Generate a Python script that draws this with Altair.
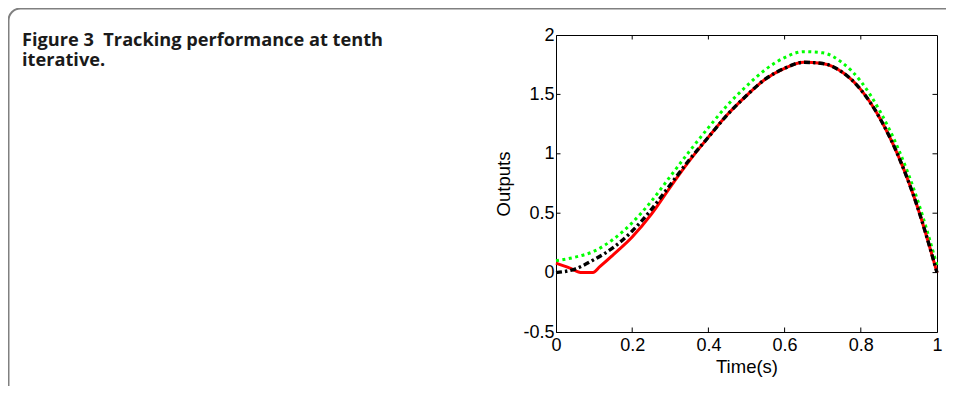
import altair as alt
import pandas as pd

# ---- data ----
caption_lines = ["Figure 3\u00a0\u00a0Tracking performance at tenth", "iterative."]

t_ref = [0, 0.05, 0.1, 0.15, 0.2, 0.25, 0.3, 0.35, 0.4, 0.45, 0.5,
         0.55, 0.6, 0.65, 0.7, 0.75, 0.8, 0.85, 0.9, 0.95, 1.0]
desired = [0, 0.03, 0.11, 0.21, 0.35, 0.53, 0.74, 0.95, 1.14, 1.33, 1.49,
           1.63, 1.72, 1.77, 1.76, 1.69, 1.54, 1.30, 0.97, 0.54, 0.0]
green = [0.10, 0.13, 0.18, 0.28, 0.42, 0.60, 0.81, 1.02, 1.22, 1.41, 1.57,
         1.71, 1.81, 1.86, 1.85, 1.77, 1.61, 1.36, 1.03, 0.60, 0.06]
t_red = [0, 0.035, 0.068, 0.097, 0.115, 0.15, 0.2, 0.25, 0.3, 0.35, 0.4, 0.45, 0.5,
         0.55, 0.6, 0.65, 0.7, 0.75, 0.8, 0.85, 0.9, 0.95, 1.0]
red = [0.08, 0.04, 0.0, 0.0, 0.05, 0.15, 0.30, 0.49, 0.72, 0.94, 1.14, 1.33, 1.49,
       1.63, 1.72, 1.77, 1.76, 1.69, 1.54, 1.30, 0.97, 0.54, 0.0]

x_ticks = [0, 0.2, 0.4, 0.6, 0.8, 1.0]
y_ticks = [-0.5, 0, 0.5, 1, 1.5, 2]
x_inner_ticks = [0.2, 0.4, 0.6, 0.8]
y_inner_ticks = [0, 0.5, 1, 1.5]

W, H = 381, 297
FONT = "Liberation Sans"

xs = alt.Scale(domain=[0, 1], nice=False, zero=False)
ys = alt.Scale(domain=[-0.5, 2], nice=False, zero=False)

x_axis = alt.Axis(values=x_ticks, labelExpr="format(datum.value, '~g')", ticks=False,
                  grid=False, labelFlush=False, labelOverlap=False, labelPadding=4,
                  titlePadding=3)
y_axis = alt.Axis(values=y_ticks,
                  labelExpr="datum.value < 0 ? '-' + format(-datum.value, '~g') : format(datum.value, '~g')",
                  ticks=False, grid=False, labelOverlap=False, labelPadding=2, titlePadding=9)

def X(field, **kw):
    return alt.X(field, type="quantitative", scale=xs, title="Time(s)", **kw)

def Y(field, **kw):
    return alt.Y(field, type="quantitative", scale=ys, title="Outputs", **kw)

df_g = pd.DataFrame({"t": t_ref, "v": green})
df_r = pd.DataFrame({"t": t_red, "v": red})
df_b = pd.DataFrame({"t": t_ref, "v": desired})

frame = alt.Chart(pd.DataFrame({"a": [0]})).mark_rect(
    fill="white", fillOpacity=0, stroke="#808080", strokeWidth=2, cornerRadius=12
).encode(x=alt.value(-547.5), x2=alt.value(1200), y=alt.value(-26.5), y2=alt.value(1200))

cap1 = alt.Chart(pd.DataFrame({"c": [caption_lines[0]]})).mark_text(
    font="Open Sans", fontWeight="bold", fontSize=18.2, align="left", baseline="alphabetic",
    color="#1a1a1a"
).encode(text="c:N", x=alt.value(-534), y=alt.value(10.5))
cap2 = alt.Chart(pd.DataFrame({"c": [caption_lines[1]]})).mark_text(
    font="Open Sans", fontWeight="bold", fontSize=18.2, align="left", baseline="alphabetic",
    color="#1a1a1a"
).encode(text="c:N", x=alt.value(-534), y=alt.value(30.5))

g_line = alt.Chart(df_g).mark_line(
    color="#00ff00", strokeWidth=3, strokeDash=[3, 3.5], strokeCap="butt", interpolate="monotone"
).encode(x=X("t", axis=x_axis), y=Y("v", axis=y_axis))
r_line = alt.Chart(df_r).mark_line(
    color="#ff0000", strokeWidth=3, interpolate="monotone"
).encode(x=X("t"), y=Y("v"))
b_line = alt.Chart(df_b).mark_line(
    color="#000000", strokeWidth=3.4, strokeDash=[6, 3, 2.5, 3], strokeCap="butt",
    interpolate="monotone"
).encode(x=X("t"), y=Y("v"))

xt = pd.DataFrame({"t": x_inner_ticks})
yt = pd.DataFrame({"v": y_inner_ticks})
tick_bottom = alt.Chart(xt).mark_rule(color="black", strokeWidth=1).encode(
    x=X("t"), y=alt.value(H), y2=alt.value(H - 4.5))
tick_top = alt.Chart(xt).mark_rule(color="black", strokeWidth=1).encode(
    x=X("t"), y=alt.value(0), y2=alt.value(4.5))
tick_left = alt.Chart(yt).mark_rule(color="black", strokeWidth=1).encode(
    y=Y("v"), x=alt.value(0), x2=alt.value(4.5))
tick_right = alt.Chart(yt).mark_rule(color="black", strokeWidth=1).encode(
    y=Y("v"), x=alt.value(W), x2=alt.value(W - 4.5))

chart = alt.layer(
    frame, cap1, cap2, g_line, r_line, b_line, tick_bottom, tick_top, tick_left, tick_right
).properties(
    width=W, height=H,
    autosize=alt.AutoSizeParams(type="none"),
    padding={"left": 548, "top": 27, "right": 9, "bottom": 54},
    background="white",
).configure_view(
    stroke="black", strokeWidth=1
).configure_axis(
    domainColor="black", domainWidth=1,
    labelFont=FONT, labelFontSize=18, labelColor="black",
    titleFont=FONT, titleFontSize=18.5, titleFontWeight="normal", titleColor="black",
)

chart.save("out.html", embed_options={"renderer": "svg", "actions": False})
